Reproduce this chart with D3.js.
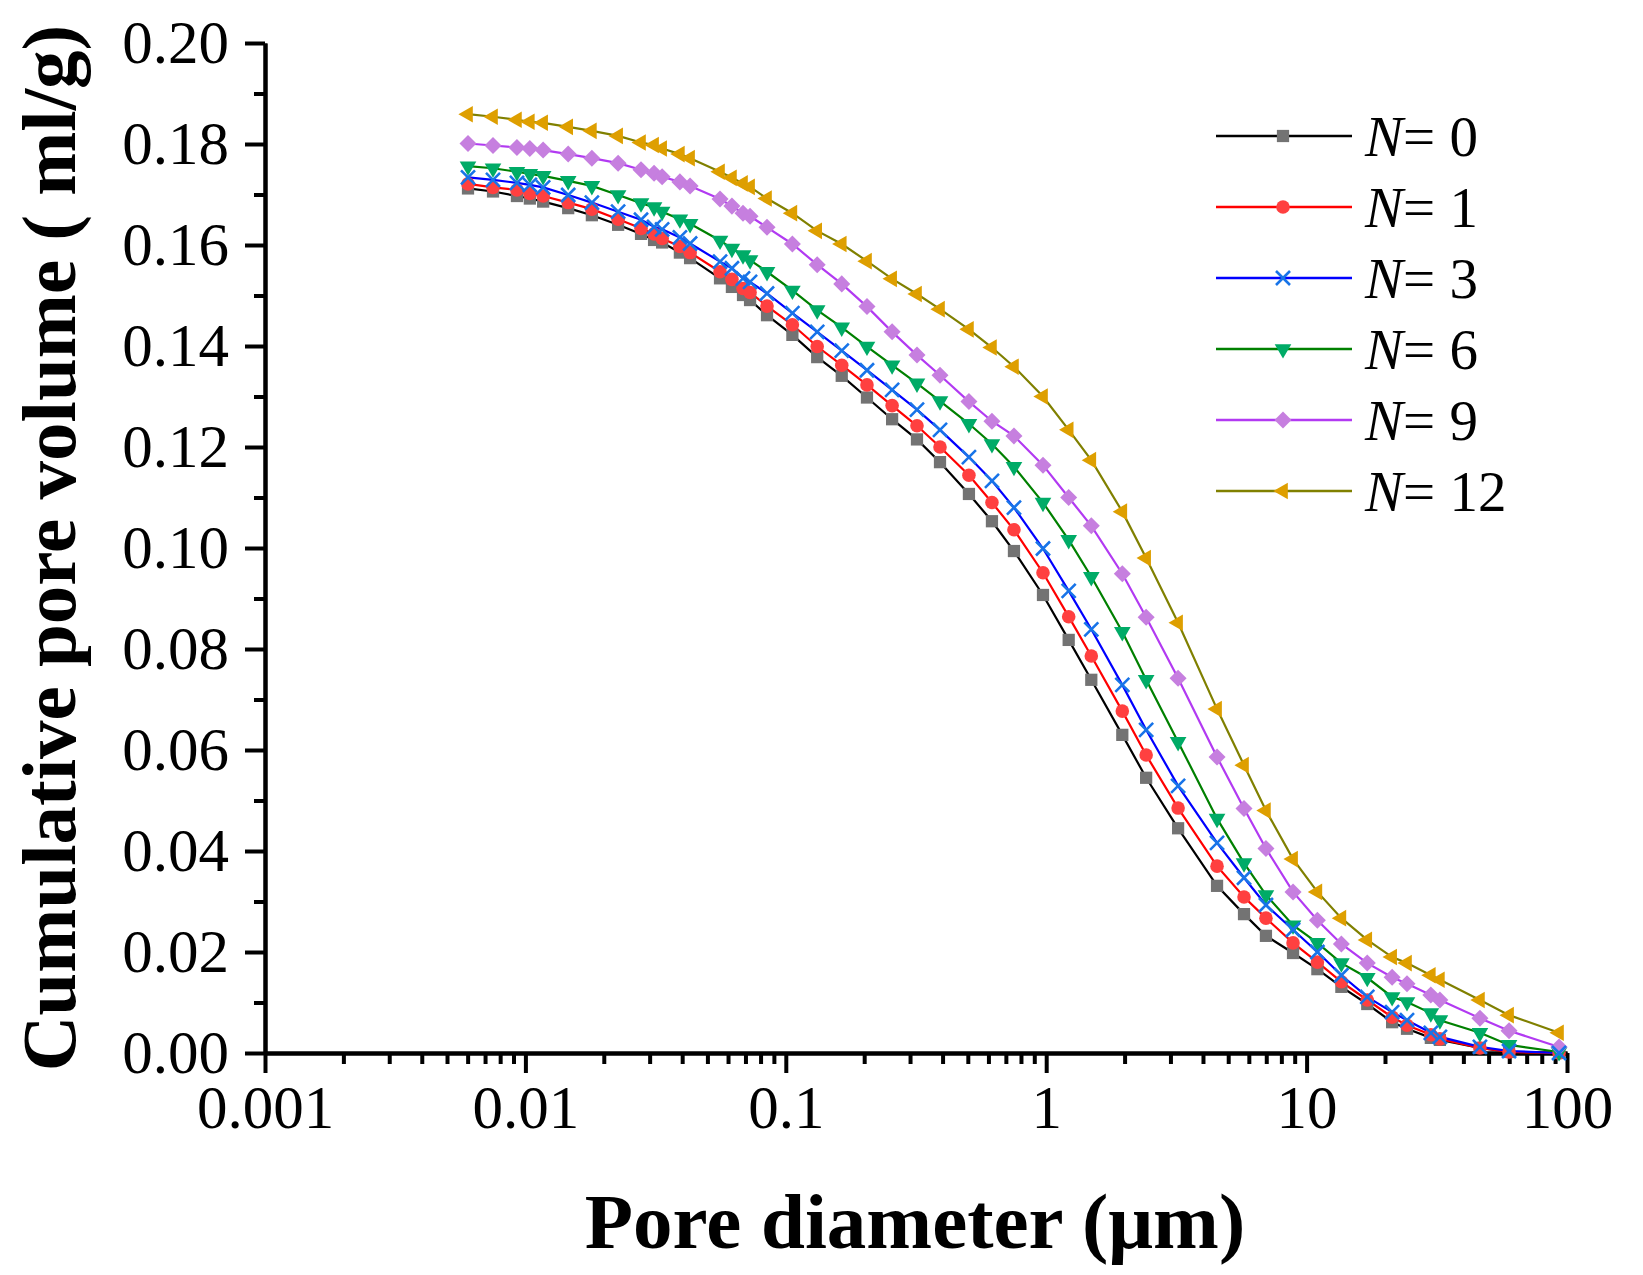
<!DOCTYPE html>
<html>
<head>
<meta charset="utf-8">
<script src="https://cdn.jsdelivr.net/npm/d3@7"></script>
<style>
  body { margin: 0; background: #fff; }
  svg { display: block; font-family: "Liberation Serif", "Times New Roman", serif; }
</style>
</head>
<body>
<svg id="chart" width="1643" height="1275"></svg>
<script>
// Pore diameters (um), shared by all series
const diameters = [0.00602, 0.00751, 0.00928, 0.0104, 0.0117, 0.0146, 0.0180, 0.0227, 0.0278, 0.0312,
  0.0335, 0.0392, 0.0429, 0.0559, 0.0621, 0.0685, 0.0729, 0.0847, 0.106, 0.132,
  0.164, 0.205, 0.256, 0.319, 0.391, 0.505, 0.619, 0.752, 0.972, 1.22,
  1.49, 1.96, 2.42, 3.21, 4.53, 5.75, 6.98, 8.87, 11.0, 13.6,
  17.1, 21.3, 24.3, 30.0, 32.5, 46.3, 59.9, 93.2];

// Cumulative pore volume (ml/g)
const n0 = [0.1712, 0.1706, 0.1697, 0.1692, 0.1686, 0.1673, 0.1659, 0.1640, 0.1622, 0.1610,
  0.1605, 0.1585, 0.1574, 0.1534, 0.1517, 0.1501, 0.1491, 0.1461, 0.1422, 0.1378,
  0.1341, 0.1298, 0.1255, 0.1215, 0.1170, 0.1107, 0.1053, 0.0994, 0.0907, 0.0818,
  0.0739, 0.0630, 0.0545, 0.0445, 0.0331, 0.0275, 0.0232, 0.0198, 0.0166, 0.0131,
  0.0097, 0.0061, 0.0048, 0.0030, 0.0026, 0.0010, 0.0002, 0.0000];
const n1 = [0.1721, 0.1714, 0.1709, 0.1702, 0.1697, 0.1684, 0.1671, 0.1651, 0.1633, 0.1622,
  0.1613, 0.1597, 0.1585, 0.1547, 0.1532, 0.1514, 0.1506, 0.1479, 0.1442, 0.1399,
  0.1362, 0.1323, 0.1282, 0.1242, 0.1200, 0.1144, 0.1090, 0.1036, 0.0951, 0.0864,
  0.0786, 0.0677, 0.0590, 0.0485, 0.0370, 0.0309, 0.0267, 0.0218, 0.0180, 0.0141,
  0.0105, 0.0071, 0.0055, 0.0036, 0.0028, 0.0010, 0.0002, 0.0000];
const n3 = [0.1734, 0.1729, 0.1723, 0.1719, 0.1714, 0.1699, 0.1684, 0.1666, 0.1650, 0.1636,
  0.1631, 0.1615, 0.1603, 0.1567, 0.1554, 0.1534, 0.1527, 0.1504, 0.1465, 0.1428,
  0.1391, 0.1352, 0.1313, 0.1274, 0.1234, 0.1180, 0.1133, 0.1080, 0.0999, 0.0915,
  0.0839, 0.0729, 0.0640, 0.0529, 0.0416, 0.0347, 0.0293, 0.0244, 0.0200, 0.0154,
  0.0111, 0.0081, 0.0065, 0.0040, 0.0032, 0.0012, 0.0004, 0.0000];
const n6 = [0.1756, 0.1752, 0.1745, 0.1741, 0.1737, 0.1727, 0.1717, 0.1699, 0.1683, 0.1675,
  0.1666, 0.1651, 0.1642, 0.1609, 0.1593, 0.1580, 0.1570, 0.1547, 0.1510, 0.1471,
  0.1437, 0.1399, 0.1362, 0.1326, 0.1291, 0.1246, 0.1206, 0.1161, 0.1090, 0.1016,
  0.0943, 0.0834, 0.0739, 0.0616, 0.0464, 0.0376, 0.0313, 0.0253, 0.0218, 0.0178,
  0.0149, 0.0111, 0.0101, 0.0079, 0.0065, 0.0040, 0.0016, 0.0002];
const n9 = [0.1801, 0.1797, 0.1793, 0.1791, 0.1788, 0.1780, 0.1772, 0.1762, 0.1749, 0.1742,
  0.1735, 0.1725, 0.1717, 0.1691, 0.1677, 0.1663, 0.1657, 0.1635, 0.1602, 0.1561,
  0.1523, 0.1478, 0.1428, 0.1382, 0.1342, 0.1290, 0.1251, 0.1222, 0.1164, 0.1100,
  0.1044, 0.0949, 0.0863, 0.0742, 0.0586, 0.0484, 0.0405, 0.0319, 0.0263, 0.0216,
  0.0178, 0.0150, 0.0137, 0.0115, 0.0105, 0.0069, 0.0044, 0.0012];
const n12 = [0.1859, 0.1854, 0.1848, 0.1844, 0.1842, 0.1834, 0.1826, 0.1816, 0.1803, 0.1798,
  0.1791, 0.1780, 0.1772, 0.1745, 0.1733, 0.1722, 0.1715, 0.1692, 0.1663, 0.1628,
  0.1602, 0.1568, 0.1533, 0.1503, 0.1473, 0.1433, 0.1397, 0.1359, 0.1300, 0.1234,
  0.1174, 0.1072, 0.0980, 0.0852, 0.0681, 0.0570, 0.0480, 0.0384, 0.0319, 0.0267,
  0.0224, 0.0190, 0.0178, 0.0154, 0.0145, 0.0105, 0.0075, 0.0040];

const seriesNames = ["0", "1", "3", "6", "9", "12"];
const seriesValues = [n0, n1, n3, n6, n9, n12];

// Axis ticks
const yTicks = [0, 0.02, 0.04, 0.06, 0.08, 0.10, 0.12, 0.14, 0.16, 0.18, 0.20];
const yTickLabels = ["0.00", "0.02", "0.04", "0.06", "0.08", "0.10", "0.12", "0.14", "0.16", "0.18", "0.20"];
const xTicks = [0.001, 0.01, 0.1, 1, 10, 100];
const xTickLabels = ["0.001", "0.01", "0.1", "1", "10", "100"];

// Styles per series
const styles = [
  { line: "#000000", fill: "#737373", type: d3.symbolSquare, size: 150, rotate: 0 },
  { line: "#ff0000", fill: "#ff4040", type: d3.symbolCircle, size: 145, rotate: 0 },
  { line: "#0000ff", fill: "#1874e8", type: "x", size: 0, rotate: 0 },
  { line: "#008000", fill: "#00ab67", type: d3.symbolTriangle, size: 120, rotate: 180 },
  { line: "#b23af2", fill: "#c67fdf", type: d3.symbolSquare, size: 145, rotate: 45 },
  { line: "#808000", fill: "#de9f00", type: d3.symbolTriangle, size: 120, rotate: -90 }
];

// marker stacking order (crosses sit on top in the original)
const markerOrder = [0, 1, 3, 4, 5, 2];

const svg = d3.select("#chart");
const margin = { top: 43, right: 76, bottom: 222, left: 265 };
const width = 1643 - margin.left - margin.right;
const height = 1275 - margin.top - margin.bottom;

const g = svg.append("g").attr("transform", `translate(${margin.left}, ${margin.top})`);

const x = d3.scaleLog().domain([0.001, 100]).range([0, width]);
const y = d3.scaleLinear().domain([0, 0.2]).range([height, 0]);

// minor ticks
const xMinor = [];
xTicks.slice(0, -1).forEach((t) => {
  for (let k = 2; k <= 9; k++) xMinor.push(t * k);
});
const yMinor = yTicks.slice(0, -1).map((t) => t + 0.01);

function styleAxis(sel) {
  sel.attr("font-size", 61).attr("font-family", "Liberation Serif, Times New Roman, serif");
  sel.select(".domain").attr("stroke-width", 4);
  sel.selectAll(".tick line").attr("stroke-width", 4);
}

// X axis
g.append("g")
  .attr("transform", `translate(0, ${height})`)
  .call(d3.axisBottom(x).tickValues(xMinor).tickFormat("").tickSize(11).tickSizeOuter(0))
  .call(styleAxis);
g.append("g")
  .attr("transform", `translate(0, ${height})`)
  .call(
    d3.axisBottom(x)
      .tickValues(xTicks)
      .tickFormat((d, i) => xTickLabels[i])
      .tickSize(20)
      .tickSizeOuter(0)
      .tickPadding(12)
  )
  .call(styleAxis);

// Y axis
g.append("g")
  .call(d3.axisLeft(y).tickValues(yMinor).tickFormat("").tickSize(11).tickSizeOuter(0))
  .call(styleAxis);
g.append("g")
  .call(
    d3.axisLeft(y)
      .tickValues(yTicks)
      .tickFormat((d, i) => yTickLabels[i])
      .tickSize(20)
      .tickSizeOuter(0)
      .tickPadding(16)
  )
  .call(styleAxis);

// Axis titles
svg.append("text")
  .attr("x", 915)
  .attr("y", 1248)
  .attr("text-anchor", "middle")
  .attr("font-size", 79)
  .attr("font-weight", "bold")
  .text("Pore diameter (\u03bcm)");

svg.append("text")
  .attr("transform", "translate(75, 548) rotate(-90)")
  .attr("text-anchor", "middle")
  .attr("font-size", 77)
  .attr("font-weight", "bold")
  .text("Cumulative pore volume ( ml/g)");

// Marker helper
function drawMarker(sel, st) {
  if (st.type === "x") {
    sel.append("path")
      .attr("d", "M-7,-7L7,7M-7,7L7,-7")
      .attr("fill", "none")
      .attr("stroke", st.fill)
      .attr("stroke-width", 2.6);
  } else {
    sel.append("path")
      .attr("d", d3.symbol().type(st.type).size(st.size)())
      .attr("transform", `rotate(${st.rotate})`)
      .attr("fill", st.fill);
  }
}

const line = d3.line()
  .x((d) => x(d[0]))
  .y((d) => y(d[1]));

const points = seriesValues.map((vals) => diameters.map((d, i) => [d, vals[i]]));

// Lines
points.forEach((pts, si) => {
  g.append("path")
    .datum(pts)
    .attr("fill", "none")
    .attr("stroke", styles[si].line)
    .attr("stroke-width", 2.2)
    .attr("d", line);
});

// Markers
markerOrder.forEach((si) => {
  const st = styles[si];
  g.append("g")
    .selectAll("g")
    .data(points[si])
    .enter()
    .append("g")
    .attr("transform", (d) => `translate(${x(d[0])}, ${y(d[1])})`)
    .each(function () {
      drawMarker(d3.select(this), st);
    });
});

// Legend
const legend = svg.append("g").attr("transform", "translate(1216, 136)");
seriesNames.forEach((name, i) => {
  const st = styles[i];
  const row = legend.append("g").attr("transform", `translate(0, ${i * 71})`);
  row.append("line")
    .attr("x1", 0)
    .attr("x2", 136)
    .attr("stroke", st.line)
    .attr("stroke-width", 2.4);
  drawMarker(row.append("g").attr("transform", "translate(67, 0)"), st);
  const t = row.append("text")
    .attr("x", 149)
    .attr("y", 20)
    .attr("font-size", 57);
  t.append("tspan").attr("font-style", "italic").text("N");
  t.append("tspan").text("= " + name);
});
</script>
</body>
</html>
